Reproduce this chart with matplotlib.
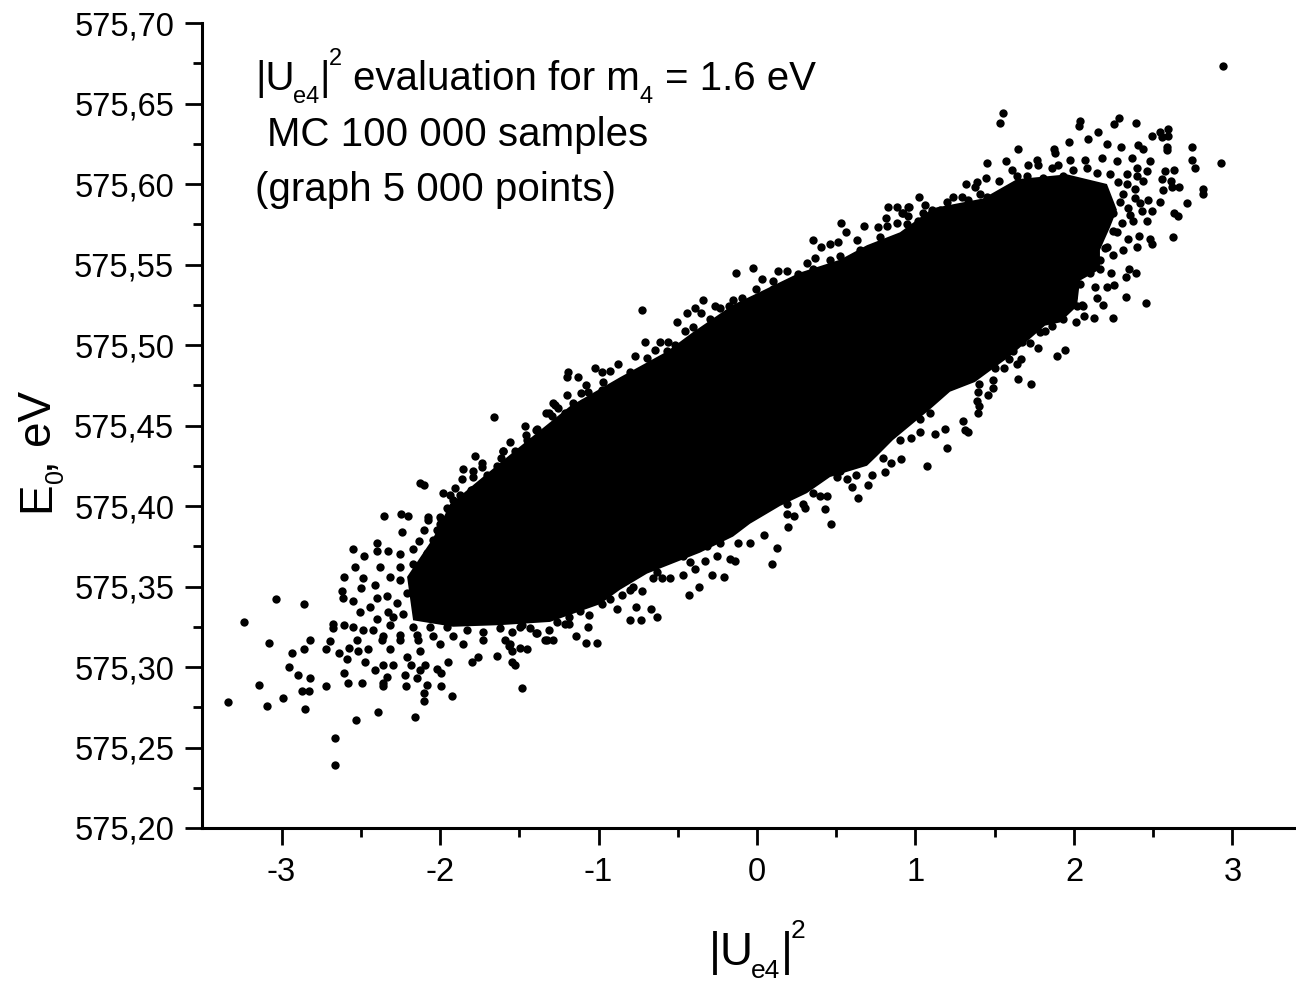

import matplotlib

matplotlib.use("Agg")
import matplotlib.pyplot as plt
from matplotlib.ticker import FixedLocator

plt.rcParams["font.family"] = ["Liberation Sans", "DejaVu Sans"]

x_ticks = [-3, -2, -1, 0, 1, 2, 3]
x_labels = ["-3", "-2", "-1", "0", "1", "2", "3"]
y_ticks = [575.20, 575.25, 575.30, 575.35, 575.40, 575.45, 575.50, 575.55, 575.60, 575.65, 575.70]
y_labels = ["575,20", "575,25", "575,30", "575,35", "575,40", "575,45", "575,50", "575,55", "575,60", "575,65", "575,70"]

# outline of the part of the cloud where the dots merge into solid black
body_x = [-2.208, -2.044, -1.937, -1.767, -1.495, -1.180, -0.864, -0.568, -0.404, -0.151,
          0.019, 0.271, 0.524, 0.694, 0.902, 1.110, 1.426, 1.640, 1.956, 2.208,
          2.271, 2.227, 2.164, 2.164, 2.038, 2.019, 1.912, 1.817, 1.596, 1.375,
          1.218, 1.091, 0.858, 0.757, 0.694, 0.461, 0.315, 0.145, -0.044, -0.151,
          -0.360, -0.694, -0.864, -0.991, -1.306, -1.621, -1.918, -2.170]
body_y = [575.356, 575.380, 575.401, 575.415, 575.437, 575.462, 575.480, 575.496, 575.508, 575.525,
          575.533, 575.545, 575.553, 575.562, 575.570, 575.585, 575.591, 575.603, 575.606, 575.600,
          575.584, 575.573, 575.559, 575.547, 575.540, 575.524, 575.514, 575.512, 575.493, 575.477,
          575.471, 575.460, 575.441, 575.431, 575.425, 575.418, 575.408, 575.400, 575.389, 575.381,
          575.371, 575.358, 575.348, 575.339, 575.328, 575.326, 575.325, 575.329]

# separate dots, lower left end of the cloud
left_x = [-3.335, -3.239, -3.033, -2.858, -3.079, -3.140, -3.093, -2.988, -2.854, -2.936,
          -2.955, -2.896, -2.820, -2.858, -2.822, -2.871, -2.824, -2.721, -2.660, -2.660,
          -2.532, -2.393, -2.160, -1.485, -1.926, -2.099, -2.101, -2.213, -2.360, -2.360,
          -2.490, -2.579, -2.608, -2.692, -2.719, -2.639, -2.677, -2.604, -2.549, -2.612,
          -2.620, -2.604, -2.536, -2.549, -2.480, -2.486, -2.497, -2.397, -2.397, -2.353,
          -2.244, -2.200, -2.099, -1.983, -1.905, -2.242, -2.074, -2.130, -2.412, -2.473,
          -2.589, -2.520, -2.452, -2.574, -2.315, -2.337, -2.223, -2.147, -2.126, -2.093,
          -1.996, -1.996, -2.084, -1.947, -1.798, -1.530, -1.453, -1.642, -1.758, -2.185,
          -2.295, -2.358, -2.021, -2.210, -2.673, -2.526, -2.484, -2.399, -2.315, -2.368,
          -2.252, -2.126, -2.136, -2.000, -1.853, -1.727, -1.590, -1.558, -1.485, -1.390,
          -1.327, -2.442, -2.505, -2.547, -2.410, -2.399, -2.326, -2.379, -2.315, -2.326,
          -2.252, -2.168, -2.101, -2.021, -1.996, -1.947, -1.806]
left_y = [575.278, 575.328, 575.342, 575.339, 575.315, 575.289, 575.276, 575.281, 575.274, 575.309,
          575.300, 575.295, 575.317, 575.311, 575.293, 575.285, 575.285, 575.288, 575.256, 575.239,
          575.267, 575.272, 575.269, 575.287, 575.282, 575.279, 575.284, 575.288, 575.288, 575.290,
          575.290, 575.290, 575.296, 575.316, 575.311, 575.309, 575.327, 575.326, 575.325, 575.343,
          575.347, 575.356, 575.362, 575.373, 575.369, 575.355, 575.349, 575.377, 575.372, 575.394,
          575.395, 575.394, 575.413, 575.408, 575.411, 575.384, 575.391, 575.378, 575.298, 575.303,
          575.305, 575.310, 575.311, 575.312, 575.311, 575.294, 575.295, 575.293, 575.298, 575.301,
          575.296, 575.288, 575.289, 575.303, 575.303, 575.301, 575.311, 575.307, 575.306, 575.301,
          575.301, 575.301, 575.299, 575.306, 575.324, 575.317, 575.323, 575.330, 575.326, 575.317,
          575.317, 575.310, 575.317, 575.314, 575.314, 575.317, 575.317, 575.314, 575.326, 575.321,
          575.317, 575.337, 575.334, 575.341, 575.351, 575.343, 575.334, 575.362, 575.356, 575.372,
          575.370, 575.373, 575.385, 575.385, 575.392, 575.398, 575.410]

# separate dots, upper right end of the cloud
right_x = [2.938, 2.927, 1.554, 1.531, 2.038, 2.032, 2.286, 2.250, 2.391, 2.154,
           1.970, 2.086, 2.208, 2.298, 2.406, 2.437, 2.490, 2.541, 2.591, 2.591,
           2.557, 2.587, 2.587, 2.742, 2.744, 2.763, 2.633, 2.574, 2.553, 2.610,
           2.660, 2.616, 2.563, 2.812, 2.812, 2.711, 2.543, 2.633, 2.658, 2.461,
           2.490, 2.427, 2.469, 2.623, 2.494, 2.479, 2.399, 2.410, 2.349, 2.389,
           2.326, 2.236, 2.252, 2.206, 2.132, 2.326, 2.452, 2.147, 2.183, 2.248,
           2.126, 2.061, 1.647, 1.872, 1.880, 1.451, 1.571, 1.611, 1.769, 1.712,
           1.775, 1.317, 1.386, 1.447, 1.529, 1.022, 0.959, 1.060, 1.197, 1.291,
           0.919, 1.975, 2.069, 2.175, 2.269, 2.364, 2.479, 2.396, 2.459, 2.333,
           2.396, 2.437, 2.385, 1.901, 1.859, 2.080, 2.385, 2.416, 2.353, 2.374,
           2.300, 2.269, 2.343, 2.310, 2.248, 2.196, 2.164, 2.049, 1.996]
right_y = [575.673, 575.613, 575.644, 575.638, 575.639, 575.636, 575.641, 575.637, 575.638, 575.632,
           575.626, 575.628, 575.625, 575.623, 575.624, 575.622, 575.630, 575.632, 575.634, 575.630,
           575.629, 575.623, 575.621, 575.623, 575.615, 575.610, 575.609, 575.608, 575.603, 575.602,
           575.598, 575.598, 575.596, 575.597, 575.594, 575.588, 575.589, 575.582, 575.580, 575.577,
           575.583, 575.583, 575.590, 575.567, 575.563, 575.566, 575.561, 575.568, 575.547, 575.545,
           575.542, 575.545, 575.537, 575.536, 575.536, 575.530, 575.526, 575.529, 575.525, 575.517,
           575.517, 575.518, 575.622, 575.622, 575.619, 575.613, 575.614, 575.609, 575.615, 575.612,
           575.612, 575.600, 575.601, 575.604, 575.602, 575.592, 575.586, 575.587, 575.589, 575.592,
           575.582, 575.615, 575.615, 575.616, 575.614, 575.616, 575.614, 575.610, 575.608, 575.606,
           575.605, 575.602, 575.597, 575.612, 575.610, 575.610, 575.591, 575.588, 575.581, 575.577,
           575.576, 575.570, 575.566, 575.559, 575.556, 575.560, 575.547, 575.525, 575.530]

# separate dots along the upper edge
upper_x = [-0.724, -0.132, -0.023, -0.339, -0.705, -0.612, -0.507, -0.444, -0.770, -1.194,
           -1.201, -1.131, -1.020, -0.875, -1.077, 0.532, 0.562, 0.351, 0.406, 0.461,
           0.829, 0.955, 0.881, 0.811, 0.917, 0.677, 0.765, 0.818, 0.629, 0.513,
           0.314, 0.366, 0.461, 0.187, 0.131, 0.030, 0.103, 0.261, -0.008, -0.097,
           -0.153, -0.175, -0.265, -0.391, -0.353, -0.233, -0.454, -0.560, -0.517, -0.644,
           -0.696, -0.980, -0.927, -0.980, -1.110, -0.826, -0.801, -1.659, -2.126, -1.394,
           -1.451, -1.603, -1.735, -1.861, -1.937, -1.274, -1.199, -1.331]
upper_y = [575.522, 575.545, 575.548, 575.528, 575.502, 575.502, 575.514, 575.520, 575.493, 575.483,
           575.480, 575.480, 575.486, 575.488, 575.475, 575.576, 575.570, 575.565, 575.561, 575.563,
           575.586, 575.586, 575.586, 575.579, 575.582, 575.574, 575.573, 575.574, 575.565, 575.564,
           575.551, 575.554, 575.553, 575.546, 575.546, 575.541, 575.540, 575.544, 575.535, 575.529,
           575.528, 575.524, 575.524, 575.523, 575.520, 575.523, 575.509, 575.502, 575.500, 575.497,
           575.492, 575.483, 575.484, 575.472, 575.470, 575.477, 575.483, 575.455, 575.414, 575.447,
           575.441, 575.434, 575.427, 575.417, 575.407, 575.463, 575.469, 575.458]

# separate dots along the lower edge
lower_x = [1.392, 1.298, 1.402, 1.186, 1.123, 1.312, 1.333, 1.197, 1.070, 1.028,
           0.970, 0.907, 0.845, 0.808, 0.702, 0.601, 0.637, 0.566, 0.625, 0.724,
           0.507, 0.440, 0.397, 0.429, 0.465, 0.355, 0.303, 0.235, 0.187, 0.198,
           0.124, 0.093, 0.042, -0.044, -0.118, -0.139, -0.170, -0.208, -0.282, -0.254,
           -0.328, -0.393, -0.368, -0.427, -0.465, -0.549, -0.597, -0.658, -0.727, -0.671,
           -0.765, -0.885, -0.633, -0.734, -0.801, -0.801, -0.854, -0.927, -0.980, -0.423]
lower_y = [575.458, 575.453, 575.462, 575.448, 575.445, 575.447, 575.446, 575.436, 575.425, 575.446,
           575.442, 575.429, 575.427, 575.421, 575.413, 575.412, 575.405, 575.417, 575.419, 575.419,
           575.418, 575.406, 575.406, 575.398, 575.389, 575.408, 575.399, 575.394, 575.395, 575.387,
           575.374, 575.364, 575.382, 575.377, 575.377, 575.366, 575.367, 575.356, 575.357, 575.369,
           575.366, 575.361, 575.350, 575.345, 575.357, 575.355, 575.355, 575.355, 575.347, 575.336,
           575.337, 575.336, 575.331, 575.329, 575.329, 575.348, 575.345, 575.342, 575.339, 575.365]

# dots that touch the solid part, under the edge dots above
band_x = [-1.186, -1.260, -1.211, -1.186, -1.064, -1.058, -1.140, -1.079, -1.011, -1.285,
          -1.338, -1.310, -1.394, -1.432, -1.495, -1.548, -1.495, -1.563, -1.548, -1.548,
          -1.264, -1.117, 1.775, 1.895, 1.945, 1.649, 1.727, 1.491, 1.403, 1.491,
          1.459, 1.396, 1.386, 1.558, 1.592, 1.642, 1.664, 1.617, 1.502, 1.670,
          1.722, 1.786, 1.817, 1.859, 1.806, 1.933, 2.011, 1.912, 1.943, 2.017,
          2.059, 1.870, -1.857, -1.779, -1.737, -1.790, -1.790, -1.705, -1.642, -1.615,
          -1.600, -1.560, -1.527, -1.457, -1.462, -1.390, -1.453, -1.310, -1.291, -1.289,
          -1.254, -1.274, -1.317, -1.159, -1.211, -1.096, -1.064, -0.970, -2.074, -1.958,
          -1.916, -1.874, -1.800, -1.737, -2.000, 1.638, 1.701, 1.806, 1.933, 1.996,
          2.143, 2.227, 2.279, 2.333, 2.310, 2.290, 2.343, 2.248, 2.248, 2.206,
          2.164, 2.101, 2.038, 1.996, 1.931, 1.533, 1.449, 1.375, 1.407, 1.239,
          1.333, 1.155, 1.102, 1.049, 0.955, 1.018, 0.944, -0.570, -0.402, -0.297,
          -0.191, -0.044, 0.103, 0.229, 0.355, 0.524, 0.650, 0.776, 0.881, -0.233,
          -0.317, -0.465, -0.633, -0.780, 0.187, 0.292, 0.524, 0.797, 0.902, 1.028,
          1.091, -2.252, -2.210, -2.273, -2.336, -2.232, -2.295, -2.168, -2.063, -1.958,
          -1.832, -1.727, -1.621, -2.252, -2.147, -2.042, -1.916, -2.168, -2.084, -2.168,
          -2.252, -2.042, -2.000, -1.916, -2.420, -2.358]
band_y = [575.331, 575.328, 575.327, 575.327, 575.325, 575.332, 575.319, 575.315, 575.315, 575.317,
          575.317, 575.323, 575.321, 575.324, 575.325, 575.322, 575.312, 575.313, 575.310, 575.303,
          575.333, 575.335, 575.498, 575.493, 575.497, 575.479, 575.476, 575.478, 575.476, 575.473,
          575.469, 575.471, 575.465, 575.486, 575.491, 575.488, 575.491, 575.496, 575.486, 575.502,
          575.501, 575.508, 575.509, 575.512, 575.516, 575.516, 575.514, 575.521, 575.528, 575.524,
          575.524, 575.525, 575.423, 575.431, 575.424, 575.422, 575.418, 575.419, 575.425, 575.430,
          575.434, 575.440, 575.434, 575.444, 575.450, 575.448, 575.435, 575.458, 575.456, 575.464,
          575.461, 575.448, 575.444, 575.464, 575.458, 575.464, 575.471, 575.477, 575.393, 575.399,
          575.404, 575.407, 575.410, 575.410, 575.393, 575.605, 575.605, 575.604, 575.605, 575.609,
          575.607, 575.606, 575.601, 575.600, 575.594, 575.589, 575.585, 575.582, 575.571, 575.561,
          575.553, 575.545, 575.538, 575.534, 575.530, 575.594, 575.592, 575.598, 575.594, 575.592,
          575.590, 575.584, 575.584, 575.582, 575.580, 575.577, 575.575, 575.496, 575.511, 575.516,
          575.519, 575.526, 575.535, 575.540, 575.547, 575.555, 575.559, 575.567, 575.576, 575.377,
          575.375, 575.369, 575.359, 575.350, 575.401, 575.401, 575.422, 575.430, 575.441, 575.454,
          575.458, 575.354, 575.346, 575.340, 575.344, 575.333, 575.331, 575.325, 575.325, 575.325,
          575.323, 575.322, 575.324, 575.320, 575.320, 575.319, 575.319, 575.364, 575.371, 575.356,
          575.362, 575.379, 575.389, 575.400, 575.323, 575.319]

fig = plt.figure(figsize=(12.96, 9.81), dpi=100)
ax = fig.add_axes([202 / 1296, 153 / 981, 1094 / 1296, 805 / 981])


def put(px, py, s, size, rotation=0):
    """Write text with its baseline start at a pixel spot of the figure."""
    fig.text(px / 1296, 1 - py / 981, s, fontsize=size, rotation=rotation,
             rotation_mode="anchor", ha="left", va="baseline")


ax.fill(body_x, body_y, color="black", lw=0)
for xs, ys in [(left_x, left_y), (right_x, right_y), (upper_x, upper_y), (lower_x, lower_y), (band_x, band_y)]:
    ax.scatter(xs, ys, s=36, c="black", linewidths=0)

ax.set_xlim(-3.502, 3.401)
ax.set_ylim(575.20, 575.70)
ax.spines["top"].set_visible(False)
ax.spines["right"].set_visible(False)
ax.spines["left"].set_linewidth(2.2)
ax.spines["bottom"].set_linewidth(2.2)

ax.set_xticks(x_ticks, x_labels)
ax.set_yticks(y_ticks, y_labels)
ax.xaxis.set_minor_locator(FixedLocator([-2.5, -1.5, -0.5, 0.5, 1.5, 2.5]))
ax.yaxis.set_minor_locator(FixedLocator([v + 0.025 for v in y_ticks[:-1]]))
ax.tick_params(which="major", length=12, width=2, labelsize=23.5)
ax.tick_params(which="minor", length=6.5, width=2)
ax.tick_params(axis="x", which="major", pad=9)
ax.tick_params(axis="y", which="major", pad=8)

# annotation, sub and superscripts sit further out than mathtext puts them
put(255, 90, "|U", 29)
put(293, 103, "e4", 17)
put(319, 90, "|", 29)
put(329, 65, "2", 17)
put(353, 90, "evaluation for m", 29)
put(640, 103, "4", 17)
put(665, 90, "= 1.6 eV", 29)
put(267, 146, "MC 100 000 samples", 29)
put(255, 201, "(graph 5 000 points)", 29)

# axis titles
put(709, 965, "|U", 33)
put(751, 978, "e4", 19)
put(781, 965, "|", 33)
put(791, 938, "2", 19)
put(49, 512, "E", 33, rotation=90)
put(63, 483, "0", 18, rotation=90)
put(49, 469, ",", 33, rotation=90)
put(49, 445, "eV", 33, rotation=90)

fig.savefig("out.png", dpi=100)
